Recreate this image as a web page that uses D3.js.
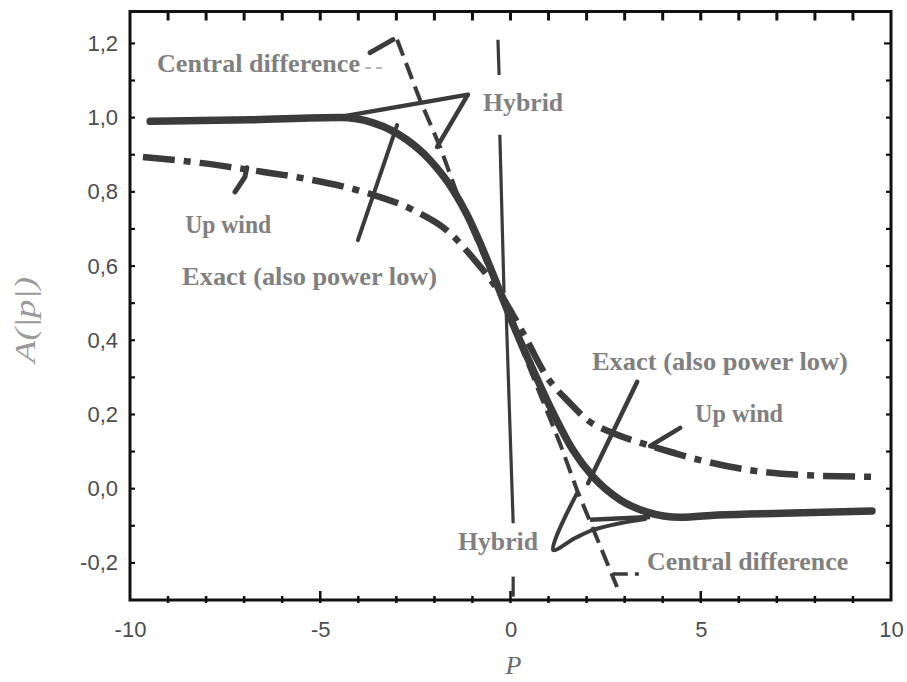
<!DOCTYPE html>
<html>
<head>
<meta charset="utf-8">
<script src="https://cdn.jsdelivr.net/npm/d3@7"></script>
<style>
  html, body { margin: 0; padding: 0; background: #fff; }
  svg { display: block; }
</style>
</head>
<body>
<svg id="chart" width="907" height="682"></svg>
<script>
// ---- data -------------------------------------------------------------
const xTickValues = [-10, -5, 0, 5, 10];
const yTickValues = [-0.2, 0, 0.2, 0.4, 0.6, 0.8, 1.0, 1.2];

// Exact solution (also power law)
const exactP = [-9.47, -6.85, -4.48, -3.61, -2.72, -2.12, -1.51, -1.14, -0.80, -0.54, -0.28, 0.07, 0.51, 1.12, 1.64, 2.17, 2.88, 3.59, 4.46, 5.43, 7.16, 9.50];
const exactA = [0.990, 0.994, 1.000, 0.986, 0.940, 0.886, 0.805, 0.738, 0.662, 0.598, 0.532, 0.442, 0.339, 0.204, 0.104, 0.032, -0.030, -0.063, -0.077, -0.071, -0.066, -0.060];

// Upwind scheme
const upwindP = [-9.66, -8.16, -6.85, -5.53, -3.77, -2.56, -1.59, -0.99, -0.36, 0.00, 0.43, 0.96, 1.56, 2.01, 2.69, 3.59, 4.98, 6.29, 7.61, 9.50];
const upwindA = [0.894, 0.878, 0.859, 0.838, 0.797, 0.751, 0.689, 0.622, 0.540, 0.480, 0.400, 0.301, 0.231, 0.186, 0.150, 0.118, 0.077, 0.050, 0.037, 0.032];

// Central difference scheme
const centralP = [-2.98, -2.38, -1.85, -1.41, -0.33, 1.30, 1.75, 2.54, 2.80];
const centralA = [1.210, 1.048, 0.921, 0.797, 0.535, 0.122, -0.004, -0.200, -0.265];

// Hybrid scheme, lower plateau
const hybridP = [2.09, 3.67];
const hybridA = [-0.084, -0.076];

// Reference line at P = 0, broken where labels sit
const zeroLineP = [[-0.33, -0.30], [-0.28, -0.17], [-0.12, 0.07], [0.07, 0.07]];
const zeroLineA = [[1.210, 1.115], [0.954, 0.528], [0.495, -0.093], [-0.237, -0.291]];

// Leader lines from labels to curves
const leaderExactTopP = [-4.01, -2.98];
const leaderExactTopA = [0.670, 0.980];
const leaderExactBotP = [3.33, 2.04];
const leaderExactBotA = [0.288, 0.015];
const leaderUpwindTopP = [-7.24, -6.98, -6.93];
const leaderUpwindTopA = [0.800, 0.840, 0.865];
const leaderUpwindBotP = [4.46, 3.67, 4.32];
const leaderUpwindBotA = [0.164, 0.115, 0.099];
const leaderHybridTopP = [-4.48, -1.12, -1.93];
const leaderHybridTopA = [1.002, 1.062, 0.921];
const leaderHybridBotP = [1.75, 1.12, 1.70, 2.17, 2.88, 3.54];
const leaderHybridBotA = [-0.012, -0.165, -0.133, -0.111, -0.093, -0.082];
const leaderCentralTopP = [-3.69, -3.09];
const leaderCentralTopA = [1.175, 1.210];
const leaderCentralTopDashP = [-3.82, -3.27];
const leaderCentralTopDashA = [1.134, 1.134];
const leaderCentralBotP = [2.69, 3.40];
const leaderCentralBotA = [-0.230, -0.230];

// Curve labels: text, left edge P, baseline A, width in px
const labelText = ["Central difference", "Hybrid", "Up wind", "Exact (also power low)",
                   "Exact (also power low)", "Up wind", "Hybrid", "Central difference"];
const labelP = [-9.29, -0.72, -8.55, -8.63, 2.14, 4.85, -1.38, 3.59];
const labelA = [1.1235, 1.018, 0.689, 0.549, 0.320, 0.180, -0.165, -0.219];
const labelW = [203, 80, 86, 255, 256, 88, 80, 201];

// ---- layout ------------------------------------------------------------
const svg = d3.select("#chart");
const plotLeft = 130, plotRight = 891, plotTop = 11.5, plotBottom = 600;

const x = d3.scaleLinear().domain([-10, 10]).range([plotLeft, plotRight]);
const y = d3.scaleLinear().domain([-0.3, 1.286]).range([plotBottom, plotTop]);

const ink = "#3b3b3b";
const labelInk = "#808080";

const fmt = d3.formatLocale({decimal: ",", thousands: ".", grouping: [3], currency: ["", ""], minus: "-"}).format(".1f");

// Frame
svg.append("rect")
  .attr("x", plotLeft).attr("y", plotTop)
  .attr("width", plotRight - plotLeft).attr("height", plotBottom - plotTop)
  .attr("fill", "none").attr("stroke", "#111").attr("stroke-width", 3);

// Minor ticks on all sides, pointing inward
const minorY = d3.range(-2, 13).map(d => d / 10);
const minorX = d3.range(-9, 10);

const tickG = svg.append("g").attr("stroke", "#111").attr("stroke-width", 2.2);
tickG.selectAll(".tl").data(minorY).join("line")
  .attr("x1", plotLeft).attr("x2", plotLeft + 5)
  .attr("y1", d => y(d)).attr("y2", d => y(d));
tickG.selectAll(".tr").data(minorY).join("line")
  .attr("x1", plotRight).attr("x2", d => plotRight - (Math.abs(d - 1.2) < 1e-9 ? 7 : 5))
  .attr("y1", d => y(d)).attr("y2", d => y(d));
tickG.selectAll(".tt").data(minorX).join("line")
  .attr("x1", d => x(d)).attr("x2", d => x(d))
  .attr("y1", plotTop).attr("y2", plotTop + 9)
  .attr("stroke-width", 3);
tickG.selectAll(".tb").data(minorX).join("line")
  .attr("x1", d => x(d)).attr("x2", d => x(d))
  .attr("y1", d => plotBottom - (d % 5 === 0 ? 9 : 4)).attr("y2", plotBottom + 3)
  .attr("stroke-width", 2.5);

// Tick labels via axes
const yAxis = svg.append("g")
  .attr("transform", `translate(${plotLeft},0)`)
  .call(d3.axisLeft(y).tickValues(yTickValues).tickSize(0).tickPadding(12).tickFormat(fmt));
yAxis.select(".domain").remove();
yAxis.selectAll("text")
  .attr("fill", "#4d4d4d")
  .style("font-family", "'Liberation Sans', Arial, sans-serif")
  .style("font-size", "22px");

const xAxis = svg.append("g")
  .attr("transform", `translate(0,${plotBottom})`)
  .call(d3.axisBottom(x).tickValues(xTickValues).tickSize(0).tickPadding(21).tickFormat(d => String(d)));
xAxis.select(".domain").remove();
xAxis.selectAll("text")
  .attr("fill", "#4d4d4d")
  .style("font-family", "'Liberation Sans', Arial, sans-serif")
  .style("font-size", "22px");

// Axis titles
svg.append("text")
  .attr("transform", `translate(35,320) rotate(-90)`)
  .attr("text-anchor", "middle")
  .attr("fill", "#9a9a9a")
  .style("font-family", "'Liberation Serif', 'Times New Roman', serif")
  .style("font-style", "italic")
  .style("font-size", "30px")
  .attr("textLength", 86).attr("lengthAdjust", "spacingAndGlyphs")
  .text("A(|p|)");

svg.append("text")
  .attr("x", x(0) + 3).attr("y", 674)
  .attr("text-anchor", "middle")
  .attr("fill", "#6a6a6a")
  .style("font-family", "'Liberation Serif', 'Times New Roman', serif")
  .style("font-style", "italic")
  .style("font-size", "26px")
  .text("P");

// ---- curves ------------------------------------------------------------
const zip = (ps, as) => ps.map((p, i) => [p, as[i]]);
const smooth = d3.line().x(d => x(d[0])).y(d => y(d[1])).curve(d3.curveMonotoneX);
const straight = d3.line().x(d => x(d[0])).y(d => y(d[1]));
const rounded = d3.line().x(d => x(d[0])).y(d => y(d[1])).curve(d3.curveCatmullRom);

const plot = svg.append("g").attr("fill", "none").attr("stroke", ink);

// P = 0 reference line
zeroLineP.forEach((ps, i) => {
  plot.append("path").attr("d", straight(zip(ps, zeroLineA[i])))
    .attr("stroke-width", 3.2);
});

// Central difference (dashed)
plot.append("path").attr("d", straight(zip(centralP, centralA)))
  .attr("stroke-width", 4).attr("stroke-dasharray", "17,8");

// Upwind (dash-dot)
plot.append("path").attr("d", smooth(zip(upwindP, upwindA)))
  .attr("stroke-width", 6.5).attr("stroke-dasharray", "32,9,7,9");

// Exact
plot.append("path").attr("d", smooth(zip(exactP, exactA)))
  .attr("stroke-width", 7.5).attr("stroke-linecap", "round").attr("stroke-linejoin", "round");

// Hybrid lower plateau
plot.append("path").attr("d", straight(zip(hybridP, hybridA)))
  .attr("stroke-width", 4.5);

// Leaders
const leaders = [
  [leaderExactTopP, leaderExactTopA, 4, straight],
  [leaderExactBotP, leaderExactBotA, 4.5, straight],
  [leaderUpwindTopP, leaderUpwindTopA, 5, straight],
  [leaderUpwindBotP, leaderUpwindBotA, 4.5, straight],
  [leaderHybridTopP, leaderHybridTopA, 4.5, straight],
  [leaderHybridBotP, leaderHybridBotA, 4, rounded],
  [leaderCentralTopP, leaderCentralTopA, 5, straight]
];
leaders.forEach(([ps, as, w, gen]) => {
  plot.append("path").attr("d", gen(zip(ps, as)))
    .attr("stroke-width", w).attr("stroke-linejoin", "round").attr("stroke-linecap", "round");
});
plot.append("path").attr("d", straight(zip(leaderCentralTopDashP, leaderCentralTopDashA)))
  .attr("stroke", "#b5b5b5").attr("stroke-width", 2).attr("stroke-dasharray", "6,5");
plot.append("path").attr("d", straight(zip(leaderCentralBotP, leaderCentralBotA)))
  .attr("stroke-width", 3.5).attr("stroke-dasharray", "15,7,4,20");

// ---- labels ------------------------------------------------------------
svg.append("g").selectAll("text")
  .data(labelText.map((t, i) => ({t, p: labelP[i], a: labelA[i], w: labelW[i]})))
  .join("text")
  .attr("x", d => x(d.p)).attr("y", d => y(d.a))
  .attr("fill", labelInk)
  .style("font-family", "'Liberation Serif', 'Times New Roman', serif")
  .style("font-weight", "bold")
  .style("font-size", "25px")
  .attr("textLength", d => d.w).attr("lengthAdjust", "spacingAndGlyphs")
  .text(d => d.t);
</script>
</body>
</html>
